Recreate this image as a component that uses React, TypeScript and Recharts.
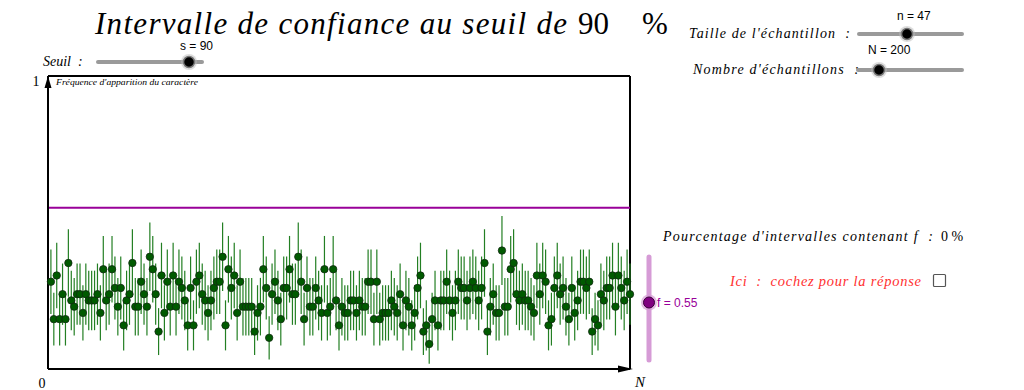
import React from "react";
import {
  ComposedChart,
  Scatter,
  ErrorBar,
  XAxis,
  YAxis,
  ReferenceLine,
} from "recharts";

// taille de l'échantillon, seuil, proportion théorique
const sampleSize = 47;
const zSeuil = 1.645;
const pValue = 0.55;

const successCounts = [
  14, 8, 15, 8, 12, 8, 17, 11, 10, 12, 12, 9, 12, 11, 11, 11, 12, 9, 16, 11,
  12, 16, 13, 10, 13, 7, 11, 12, 17, 10, 10, 14, 12, 10, 18, 16, 12, 6, 15, 9,
  14, 10, 15, 10, 14, 13, 11, 7, 13, 7, 14, 15, 12, 11, 9, 11, 13, 14, 14, 18,
  7, 16, 13, 15, 9, 14, 10, 10, 10, 10, 6, 9, 10, 16, 13, 5, 12, 14, 11, 8,
  13, 13, 16, 12, 12, 18, 14, 8, 13, 10, 10, 13, 11, 9, 16, 9, 10, 16, 11, 7,
  10, 9, 9, 11, 11, 9, 11, 10, 10, 14, 14, 8, 14, 8, 9, 9, 9, 11, 10, 9,
  12, 7, 11, 10, 7, 9, 13, 15, 6, 7, 4, 8, 11, 7, 11, 11, 14, 11, 9, 11,
  14, 13, 13, 11, 13, 14, 13, 11, 13, 17, 6, 10, 12, 9, 9, 19, 10, 10, 16, 17,
  12, 11, 12, 11, 11, 10, 9, 15, 12, 15, 14, 7, 8, 13, 15, 12, 13, 10, 8, 13,
  9, 11, 14, 14, 13, 14, 6, 8, 7, 12, 11, 13, 13, 15, 10, 15, 13, 11, 14, 12,
];

const xTicks = [0, successCounts.length];
const yTicks = [1];

const data = successCounts.map((k, i) => {
  const f = k / sampleSize;
  return {
    x: i + 1,
    f,
    err: zSeuil * Math.sqrt((f * (1 - f)) / sampleSize),
  };
});

const serif = "'Liberation Serif', 'DejaVu Serif', serif";
const sans = "'Liberation Sans', Arial, sans-serif";

function Dot(props: any) {
  return (
    <circle
      cx={props.cx}
      cy={props.cy}
      r={3.7}
      fill="#005a00"
      stroke="#102a10"
      strokeWidth={0.8}
    />
  );
}

function XTick(props: any) {
  const { x, y, payload } = props;
  if (payload.value === 0) {
    return (
      <text x={x - 6} y={y + 11} textAnchor="middle" fontFamily={serif} fontSize={14} fill="#000">
        0
      </text>
    );
  }
  return (
    <text x={x + 10} y={y + 10} textAnchor="middle" fontFamily={serif} fontStyle="italic" fontSize={15} fill="#000">
      N
    </text>
  );
}

function YTick(props: any) {
  const { y } = props;
  return (
    <text x={36} y={y + 10} textAnchor="middle" fontFamily={serif} fontSize={14} fill="#000">
      1
    </text>
  );
}

function Slider({ x1, x2, y, knob, label, lx, ly }: any) {
  return (
    <g>
      <line x1={x1} y1={y} x2={x2} y2={y} stroke="#9a9a9a" strokeWidth={4} strokeLinecap="round" />
      <circle cx={knob} cy={y} r={8} fill="#bbbbbb" opacity={0.5} />
      <circle cx={knob} cy={y} r={5.5} fill="#000" stroke="#777" strokeWidth={1.5} />
      <text x={lx} y={ly} fontFamily={sans} fontSize={12} fill="#000">
        {label}
      </text>
    </g>
  );
}

function Overlay() {
  return (
    <svg
      width={1024}
      height={390}
      style={{ position: "absolute", left: 0, top: 0, pointerEvents: "none" }}
    >
      <text x={95} y={34} fontFamily={serif} fontStyle="italic" fontSize={31} fill="#000" textLength={472} lengthAdjust="spacing">
        Intervalle de confiance au seuil de
      </text>
      <text x={578} y={34} fontFamily={serif} fontSize={31} fill="#000">
        90
      </text>
      <text x={642} y={34} fontFamily={serif} fontSize={31} fill="#000">
        %
      </text>

      <text x={43} y={66} fontFamily={serif} fontStyle="italic" fontSize={14} fill="#000">
        Seuil&#160;&#160;:
      </text>
      <Slider x1={98} x2={202} y={62} knob={189} label="s = 90" lx={180} ly={50} />

      <text x={689} y={38} fontFamily={serif} fontStyle="italic" fontSize={14} fill="#000" textLength={161} lengthAdjust="spacing">
        Taille de l'échantillon&#160;&#160;:
      </text>
      <Slider x1={859} x2={962} y={34} knob={907} label="n = 47" lx={897} ly={20} />

      <text x={693} y={74} fontFamily={serif} fontStyle="italic" fontSize={14} fill="#000" textLength={166} lengthAdjust="spacing">
        Nombre d'échantillons&#160;&#160;:
      </text>
      <Slider x1={858} x2={962} y={70} knob={879} label="N = 200" lx={868} ly={54} />

      <text x={56} y={85} fontFamily={serif} fontStyle="italic" fontSize={8} fill="#000" textLength={142} lengthAdjust="spacingAndGlyphs">
        Fréquence d'apparition du caractère
      </text>

      <polygon points="48,76 44.5,88 51.5,88" fill="#000" />
      <polygon points="633,369 618,365.5 618,372.5" fill="#000" />

      <text x={663} y={241} fontFamily={serif} fontStyle="italic" fontSize={14} fill="#000" textLength={270} lengthAdjust="spacing">
        Pourcentage d'intervalles contenant f&#160;&#160;:
      </text>
      <text x={941} y={241} fontFamily={serif} fontSize={14} fill="#000">
        0 %
      </text>

      <text x={730} y={286} fontFamily={serif} fontStyle="italic" fontSize={14.5} fill="#ff3030" textLength={191} lengthAdjust="spacing">
        Ici&#160;&#160;:&#160;&#160;cochez pour la réponse
      </text>
      <rect x={933.5} y={274.5} width={12} height={12} fill="#fff" stroke="#555" strokeWidth={1.2} rx={1} />

      <line x1={649} y1={257} x2={649} y2={360} stroke="#d69bd6" strokeWidth={5} strokeLinecap="round" />
      <circle cx={649} cy={302.5} r={8} fill="#d69bd6" opacity={0.7} />
      <circle cx={649} cy={302.5} r={5.5} fill="#800080" stroke="#3a003a" strokeWidth={1} />
      <text x={657} y={307} fontFamily={sans} fontSize={12} fill="#990099">
        f = 0.55
      </text>
    </svg>
  );
}

export default function App() {
  return (
    <div style={{ position: "absolute", left: 0, top: 0, width: 1024, height: 390, background: "#fff" }}>
      <ComposedChart
        width={1024}
        height={390}
        data={data}
        margin={{ top: 76, right: 394, bottom: 0, left: 0 }}
      >
        <XAxis
          type="number"
          dataKey="x"
          domain={[0, successCounts.length]}
          ticks={xTicks}
          tick={<XTick />}
          tickLine={false}
          axisLine={{ stroke: "#000", strokeWidth: 2 }}
          height={21}
          interval={0}
        />
        <YAxis
          type="number"
          domain={[0, 1]}
          ticks={yTicks}
          tick={<YTick />}
          tickLine={false}
          axisLine={{ stroke: "#000", strokeWidth: 2 }}
          width={48}
        />
        <ReferenceLine y={1} stroke="#000" strokeWidth={2} />
        <ReferenceLine x={successCounts.length} stroke="#000" strokeWidth={2} />
        <ReferenceLine y={pValue} stroke="#990099" strokeWidth={2} />
        <Scatter dataKey="f" shape={<Dot />} isAnimationActive={false}>
          <ErrorBar dataKey="err" direction="y" width={0} stroke="#237f23" strokeWidth={1.2} />
        </Scatter>
      </ComposedChart>
      <Overlay />
    </div>
  );
}
